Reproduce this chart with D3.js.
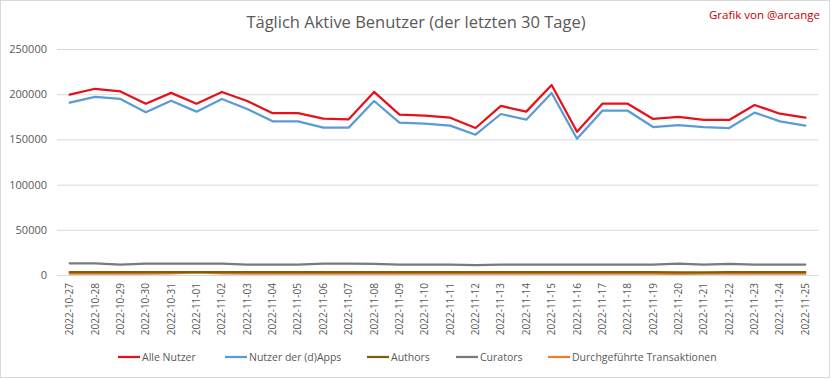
<!DOCTYPE html>
<html><head><meta charset="utf-8">
<script src="https://cdn.jsdelivr.net/npm/d3@7"></script>
<style>body{margin:0;background:#fff}svg{display:block}</style>
</head><body><svg id="c" width="833" height="379"></svg>
<script>
const dates = ["2022-10-27","2022-10-28","2022-10-29","2022-10-30","2022-10-31","2022-11-01","2022-11-02","2022-11-03","2022-11-04","2022-11-05","2022-11-06","2022-11-07","2022-11-08","2022-11-09","2022-11-10","2022-11-11","2022-11-12","2022-11-13","2022-11-14","2022-11-15","2022-11-16","2022-11-17","2022-11-18","2022-11-19","2022-11-20","2022-11-21","2022-11-22","2022-11-23","2022-11-24","2022-11-25"];
const alleNutzer = [199500,206000,203000,189500,201500,189500,202500,192500,179000,179000,173000,172200,202500,177400,176200,174000,162600,187000,180700,210200,158500,189500,189500,172600,174800,171500,171500,188100,178400,174000];
const dappsNutzer = [190600,197000,194700,180000,192800,180700,194700,183600,170000,170000,163000,163000,192500,168500,167400,165200,155200,178100,171800,201300,150800,181700,181700,163700,165900,163700,162600,179600,170000,165200];
const authors = [3200,3200,3200,3200,3200,3100,3200,3200,3200,3200,3200,3200,3200,3200,3200,3200,3200,3200,3200,3200,3200,3200,3200,3200,2800,3000,3200,3200,3200,3200];
const curators = [12900,12800,11500,12500,12600,12600,12600,11600,11500,11500,12500,12500,12400,11600,11500,11500,10800,11500,11500,11500,11500,11500,11500,11500,12500,11600,12400,11500,11500,11500];
const transaktionen = [1500,1500,1500,1500,1800,3000,1800,1500,1500,1500,1500,1500,1500,1500,1500,1500,1500,1500,1500,1500,1500,1500,1500,1500,1300,1500,1500,1500,1500,1500];
const yTicks = [0,50000,100000,150000,200000,250000];
const seriesNames = ["Alle Nutzer","Nutzer der (d)Apps","Authors","Curators","Durchgeführte Transaktionen"];
const seriesColors = ["#e3121b","#5b9bd5","#7f6000","#7a7a7a","#ed7d31"];
const title = "Täglich Aktive Benutzer (der letzten 30 Tage)";
const credit = "Grafik von @arcange";

const svg = d3.select("#c");
const font = "'Open Sans', Lato, sans-serif";
svg.append("rect").attr("x",0.5).attr("y",0.5).attr("width",829).attr("height",377)
  .attr("fill","#fff").attr("stroke","#d9d9d9");

const L = 57, R = 818, T = 49, B = 275;
const x = d3.scaleBand().domain(dates).range([L,R]);
const y = d3.scaleLinear().domain([0,250000]).range([B,T]);

svg.append("g").selectAll("line").data(yTicks).join("line")
  .attr("x1",L).attr("x2",R).attr("y1",d=>y(d)+0.5).attr("y2",d=>y(d)+0.5)
  .attr("stroke","#d9d9d9").attr("stroke-width",1);

const yAxis = d3.axisLeft(y).tickValues(yTicks).tickSize(0).tickPadding(10).tickFormat(d3.format("d"));
const gy = svg.append("g").attr("transform",`translate(${L},0)`).call(yAxis);
gy.select(".domain").remove();
gy.selectAll("text").attr("fill","#595959").style("font-family",font).style("font-size","11px");

const xAxis = d3.axisBottom(x).tickSize(0).tickPadding(0);
const gx = svg.append("g").attr("transform",`translate(0,${B})`).call(xAxis);
gx.select(".domain").attr("stroke","#d9d9d9");
gx.selectAll("text").attr("fill","#595959").style("font-family",font).style("font-size","10px")
  .attr("transform","rotate(-90)").attr("text-anchor","end").attr("x",-8).attr("y",0).attr("dy","0.35em");

const series = [alleNutzer,dappsNutzer,authors,curators,transaktionen];
const line = d3.line().x((d,i)=>x(dates[i])+x.bandwidth()/2).y(d=>y(d));
const order = [4,2,3,1,0];
order.forEach(k=>{
  svg.append("path").datum(series[k]).attr("d",line).attr("fill","none")
    .attr("stroke",seriesColors[k]).attr("stroke-width",2.25).attr("stroke-linejoin","round").attr("stroke-linecap","round");
});

svg.append("text").attr("x",416).attr("y",28).attr("text-anchor","middle")
  .attr("fill","#595959").style("font-family",font).style("font-size","16.5px").text(title);
svg.append("text").attr("x",820).attr("y",19).attr("text-anchor","end")
  .attr("fill","#c00000").style("font-family",font).style("font-size","11.5px").text(credit);

const legX = [118,225,367,456,548];
const lg = svg.append("g");
seriesNames.forEach((n,i)=>{
  lg.append("line").attr("x1",legX[i]).attr("x2",legX[i]+22).attr("y1",357).attr("y2",357)
    .attr("stroke",seriesColors[i]).attr("stroke-width",2.25);
  lg.append("text").attr("x",legX[i]+24).attr("y",357).attr("dy","0.35em")
    .attr("fill","#595959").style("font-family",font).style("font-size","10.5px").text(n);
});
</script></body></html>
